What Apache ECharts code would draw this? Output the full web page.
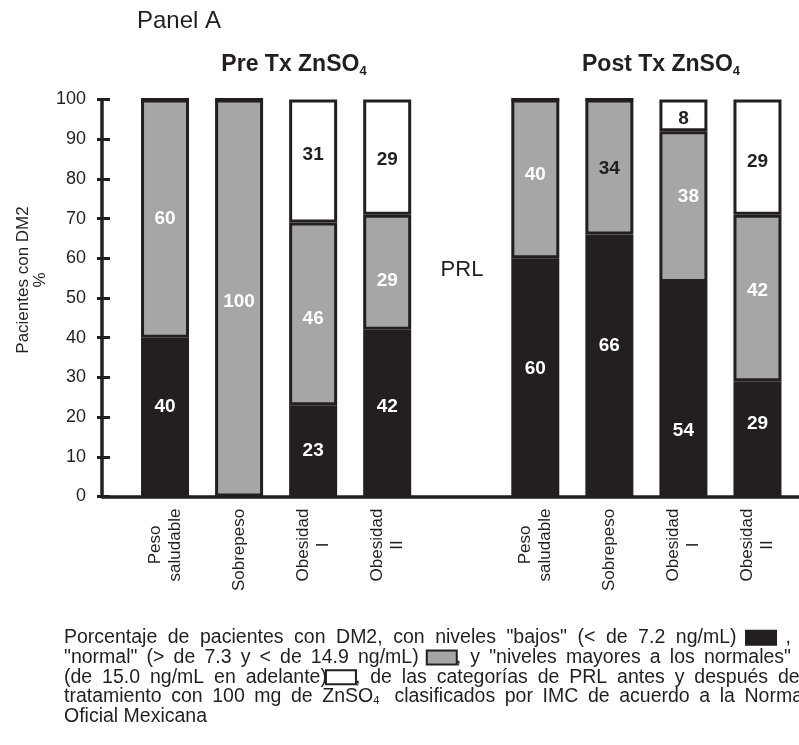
<!DOCTYPE html>
<html>
<head>
<meta charset="utf-8">
<title>PRL por IMC antes y después de ZnSO4</title>
<script src="https://cdn.jsdelivr.net/npm/echarts@6/dist/echarts.min.js"></script>
<style>
  html, body { margin: 0; padding: 0; background: #ffffff; }
  #chart { width: 799px; height: 745px; }
</style>
</head>
<body>
<div id="chart"></div>
<script>
// Categorías de IMC (la posición vacía separa Pre y Post tratamiento)
const categories = ['Peso\nsaludable', 'Sobrepeso', 'Obesidad\nI', 'Obesidad\nII', '',
                    'Peso\nsaludable', 'Sobrepeso', 'Obesidad\nI', 'Obesidad\nII'];
// Porcentaje de pacientes por nivel de PRL
const bajos  = [40, 0, 23, 42, null, 60, 66, 54, 29];   // < 7.2 ng/mL
const normal = [60, 100, 46, 29, null, 40, 34, 38, 42]; // 7.3 – 14.9 ng/mL
const altos  = [0, 0, 31, 29, null, 0, 0, 8, 29];       // >= 15.0 ng/mL
const yMin = 0, yMax = 100, yStep = 10;

// Pie de figura; [k] [g] [w] son las muestras de color y [4] el subíndice
const captionLines = [
  'Porcentaje de pacientes con DM2, con niveles "bajos" (< de 7.2 ng/mL) [k] ,',
  '"normal" (> de 7.3 y < de 14.9 ng/mL) [g], y "niveles mayores a los normales"',
  '(de 15.0 ng/mL en adelante)[w], de las categorías de PRL antes y después del',
  'tratamiento con 100 mg de ZnSO[4]\u00a0 clasificados por IMC de acuerdo a la Norma',
  'Oficial Mexicana'
];

const INK = '#231f20';
const GRAY = '#a6a6a6';
const SANS = '"Liberation Sans", Arial, Helvetica, sans-serif';

// Ajustes de posición de las etiquetas dentro de cada segmento
const shiftBajos  = [[0,-10],[0,0],[0,0],[0,-6],null,[0,-9],[0,-20],[0,41],[0,-15]];
const shiftNormal = [[0,0],[0,4],[0,5],[0,9],null,[0,-4],[0,2],[5,-10],[0,-7]];
const shiftAltos  = [[0,0],[0,0],[0,-6],[0,3],null,[0,0],[0,0],[0,3],[0,5]];
const darkNormalLabel = [6];

function buildData(values, shifts, colorFn) {
  return values.map((v, i) => {
    if (v === null) return '-';
    return {
      value: v,
      label: { offset: shifts[i] || [0, 0], color: colorFn(i) }
    };
  });
}

function segment(name, values, fill, shifts, colorFn) {
  return {
    name: name,
    type: 'bar',
    stack: 'prl',
    xAxisIndex: 1,
    yAxisIndex: 2,
    barWidth: 48,
    itemStyle: { color: fill, borderColor: INK, borderWidth: 3 },
    label: {
      show: true,
      position: 'inside',
      fontFamily: SANS,
      fontWeight: 'bold',
      fontSize: 19,
      formatter: p => (p.value ? String(p.value) : '')
    },
    emphasis: { disabled: true },
    data: buildData(values, shifts, colorFn)
  };
}

const measureCtx = document.createElement('canvas').getContext('2d');
function textWidth(font, s) {
  measureCtx.font = font;
  return measureCtx.measureText(s).width;
}

// Etiquetas de categoría: líneas centradas entre sí
const CAT_FONT_SIZE = 17;
const catRich = {};
categories.forEach((c, i) => {
  const w = Math.max(...c.split('\n').map(l => textWidth(CAT_FONT_SIZE + 'px ' + SANS, l)));
  catRich['c' + i] = { width: Math.ceil(w), align: 'center', fontSize: CAT_FONT_SIZE, fontFamily: SANS, color: INK, lineHeight: 20 };
});

// Pie de figura justificado: cada espacio se sustituye por un hueco de ancho calculado
const CAP_FONT = '19.5px ' + SANS;
const CAP_SUB_FONT = '11px ' + SANS;
const SWATCH_W = 28;
const capLeft = 64;
const capRight = [791, 791, 804, 803, null];
const capRich = {
  t: { font: CAP_FONT, fill: INK, lineHeight: 19.7 },
  s: { font: CAP_SUB_FONT, fill: INK, lineHeight: 9, verticalAlign: 'bottom' },
  k: { width: SWATCH_W, height: 12, backgroundColor: INK, borderColor: INK, borderWidth: 2 },
  g: { width: SWATCH_W, height: 12, backgroundColor: GRAY, borderColor: INK, borderWidth: 2 },
  w: { width: SWATCH_W, height: 12, backgroundColor: '#ffffff', borderColor: INK, borderWidth: 2 }
};
function wordTokens(word) {
  const parts = word.split(/\[(k|g|w|4)\]/);
  let width = 0;
  let out = '';
  parts.forEach((p, j) => {
    if (p === '') return;
    if (j % 2 === 1) {
      if (p === '4') { out += '{s|4}'; width += textWidth(CAP_SUB_FONT, '4'); }
      else { out += '{' + p + '|}'; width += SWATCH_W; }
    } else {
      out += '{t|' + p + '}'; width += textWidth(CAP_FONT, p);
    }
  });
  return { out, width };
}
const captionText = captionLines.map((line, li) => {
  const words = line.split(' ').map(wordTokens);
  const total = words.reduce((a, w) => a + w.width, 0);
  const gap = capRight[li] ? (capRight[li] - capLeft - total) / (words.length - 1)
                           : textWidth(CAP_FONT, ' ');
  capRich['sp' + li] = { width: gap, lineHeight: 19.7 };
  return words.map(w => w.out).join('{sp' + li + '|}');
}).join('\n');

const chart = echarts.init(document.getElementById('chart'), null, { renderer: 'canvas' });

const gridBox = { top: 99.5, bottom: 248.5 };

const titleRich = {
  b: { font: 'bold 23px ' + SANS, fill: INK, lineHeight: 26 },
  s: { font: 'bold 13px ' + SANS, fill: INK, lineHeight: 11, verticalAlign: 'bottom' }
};

const option = {
  animation: false,
  backgroundColor: '#ffffff',
  grid: [
    { left: 102, right: 0, top: gridBox.top, bottom: gridBox.bottom, outerBoundsMode: 'none', containLabel: false },
    { left: 128, right: 4.5, top: gridBox.top, bottom: gridBox.bottom, outerBoundsMode: 'none', containLabel: false }
  ],
  xAxis: [
    {
      gridIndex: 0, type: 'value', min: 0, max: 1,
      axisLine: { show: true, lineStyle: { color: INK, width: 3.5 } },
      axisTick: { show: false }, axisLabel: { show: false }, splitLine: { show: false }
    },
    {
      gridIndex: 1, type: 'category', data: categories,
      axisLine: { show: false }, axisTick: { show: false }, splitLine: { show: false },
      axisLabel: {
        interval: 0, rotate: 90, margin: 12,
        fontFamily: SANS, fontSize: CAT_FONT_SIZE, color: INK, lineHeight: 20,
        formatter: (v, i) => (v ? v.split('\n').map(l => '{c' + i + '|' + l + '}').join('\n') : ''),
        rich: catRich
      }
    }
  ],
  yAxis: [
    {
      gridIndex: 0, type: 'value', position: 'left', min: yMin, max: yMax, interval: yStep,
      axisLine: { show: true, lineStyle: { color: INK, width: 3.5 } },
      axisTick: { show: true, length: 5, lineStyle: { color: INK, width: 3 } },
      axisLabel: { margin: 16, fontFamily: SANS, fontSize: 18, color: INK },
      splitLine: { show: false }
    },
    {
      gridIndex: 0, type: 'value', position: 'left', min: yMin, max: yMax, interval: yStep,
      axisLine: { show: false },
      axisTick: { show: true, inside: true, length: 8, lineStyle: { color: INK, width: 3 } },
      axisLabel: { show: false }, splitLine: { show: false }
    },
    {
      gridIndex: 1, type: 'value', min: yMin, max: yMax, show: false
    }
  ],
  series: [
    segment('bajos', bajos, INK, shiftBajos, () => '#ffffff'),
    segment('normal', normal, GRAY, shiftNormal, i => (darkNormalLabel.includes(i) ? INK : '#ffffff')),
    segment('altos', altos, '#ffffff', shiftAltos, () => INK)
  ],
  graphic: [
    {
      type: 'text', x: 137, y: 21,
      style: { text: 'Panel A', font: '24px ' + SANS, fill: INK, textVerticalAlign: 'middle' }
    },
    {
      type: 'text', x: 294, y: 65,
      style: { text: '{b|Pre Tx ZnSO}{s|4}', textAlign: 'center', textVerticalAlign: 'middle', rich: titleRich }
    },
    {
      type: 'text', x: 661, y: 65,
      style: { text: '{b|Post Tx ZnSO}{s|4}', textAlign: 'center', textVerticalAlign: 'middle', rich: titleRich }
    },
    {
      type: 'text', x: 462, y: 270,
      style: { text: 'PRL', font: '22px ' + SANS, fill: INK, textAlign: 'center', textVerticalAlign: 'middle' }
    },
    {
      type: 'text', x: 32, y: 280, rotation: Math.PI / 2,
      style: {
        text: 'Pacientes con DM2\n%', font: '17px ' + SANS, fill: INK,
        textAlign: 'center', textVerticalAlign: 'middle', lineHeight: 17
      }
    },
    {
      type: 'text', x: capLeft, y: 628,
      style: { textVerticalAlign: 'top', text: captionText, rich: capRich }
    }
  ]
};

chart.setOption(option);
</script>
</body>
</html>
